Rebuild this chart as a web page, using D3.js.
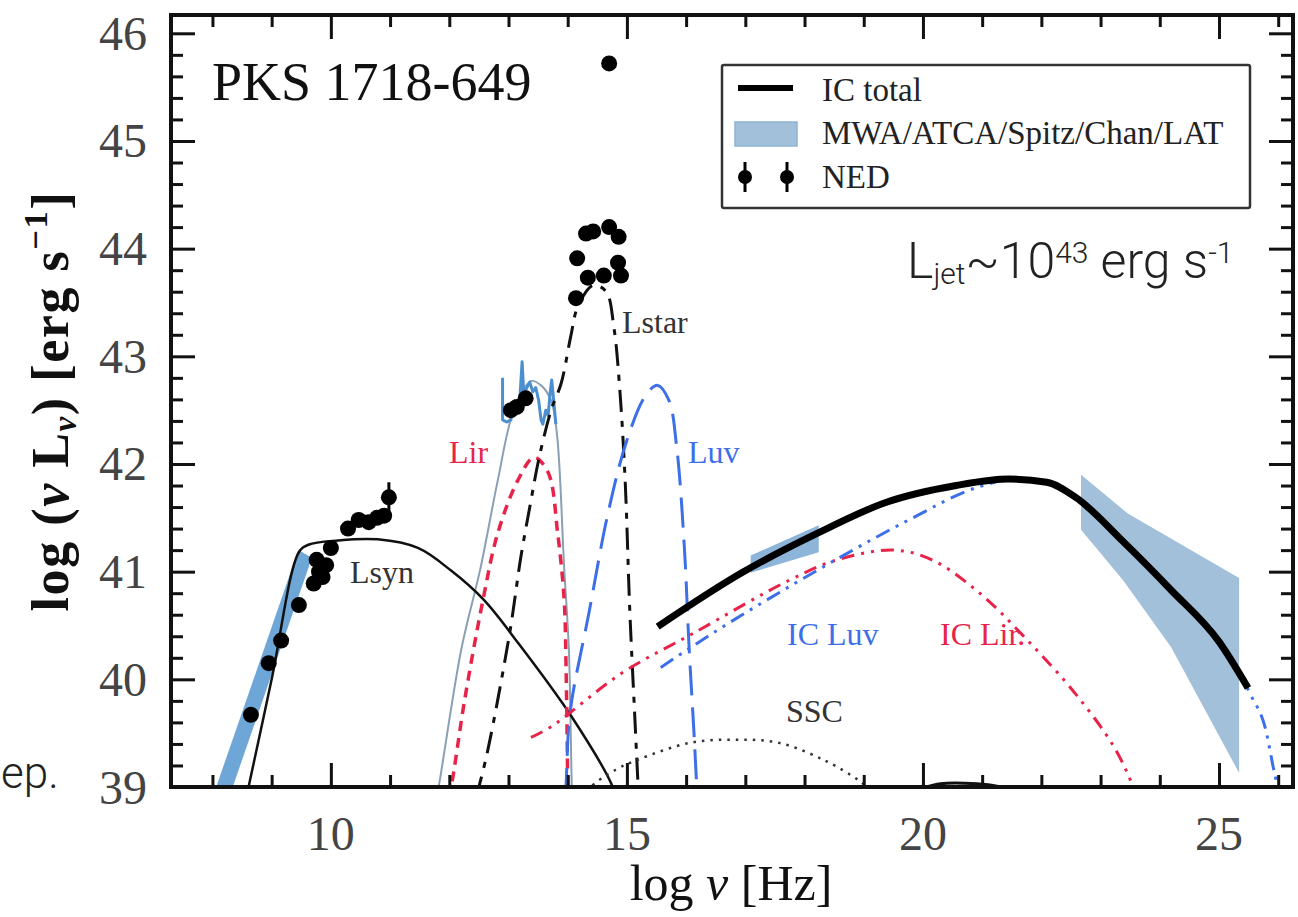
<!DOCTYPE html>
<html><head><meta charset="utf-8">
<script src="https://cdn.jsdelivr.net/npm/d3@7"></script>
<style>
body{margin:0;background:#fff}svg{display:block}
.serif{font-family:"Liberation Serif","Times New Roman",Times,serif;}
.sans{font-family:Roboto,"Liberation Sans",Arial,sans-serif;font-weight:300;}
</style>
</head><body>
<svg id="c" width="1298" height="917"></svg>
<script>
// ---------- data (log nu [Hz], log nuL_nu [erg/s]) ----------
const xMajorTicks = [10, 15, 20, 25];
const xMinorTicks = [8, 9, 11, 12, 13, 14, 16, 17, 18, 19, 21, 22, 23, 24, 26];
const yMajorTicks = [39, 40, 41, 42, 43, 44, 45, 46];
const yMinorTicks = [39.2,39.4,39.6,39.8,40.2,40.4,40.6,40.8,41.2,41.4,41.6,41.8,42.2,42.4,42.6,42.8,43.2,43.4,43.6,43.8,44.2,44.4,44.6,44.8,45.2,45.4,45.6,45.8];

const lsyn = [[8.55,38.85],[8.61,39.0],[9.0,40.0],[9.46,41.18],[9.62,41.25],[10.12,41.29],[10.79,41.30],[11.47,41.22],[12.03,41.01],[12.58,40.74],[13.16,40.34],[14.07,39.65],[14.76,39.0],[14.8,38.9]];
const lstar = [[12.45,38.9],[12.50,39.0],[12.65,39.34],[13.02,40.43],[13.21,41.14],[13.38,41.66],[13.51,42.04],[13.72,42.50],[13.89,42.75],[14.05,43.18],[14.17,43.46],[14.43,43.66],[14.65,43.60],[14.78,43.27],[14.88,42.69],[14.97,41.85],[15.05,40.62],[15.13,39.69],[15.19,39.0],[15.2,38.9]];
const lir = [[11.98,38.9],[12.03,39.0],[12.26,39.81],[12.57,40.74],[12.82,41.36],[13.16,41.85],[13.43,42.06],[13.67,41.92],[13.83,41.36],[13.94,40.74],[13.97,40.18],[14.0,39.0],[14.0,38.9]];
const thermalTotal = [[11.78,38.9],[11.82,39.0],[12.20,40.27],[12.53,41.04],[12.82,41.85],[13.09,42.50],[13.38,42.77],[13.55,42.73],[13.72,42.59],[13.82,42.27],[13.94,41.04],[14.02,40.27],[14.07,39.0],[14.08,38.9]];
const luv = [[13.95,38.9],[13.97,39.0],[14.04,39.69],[14.36,40.62],[14.68,41.54],[15.0,42.22],[15.32,42.64],[15.52,42.73],[15.71,42.59],[15.84,42.16],[15.97,41.23],[16.05,40.30],[16.13,39.53],[16.18,39.0],[16.19,38.9]];
const icTotal = [[15.52,40.49],[16.94,40.99],[18.23,41.36],[19.36,41.64],[20.56,41.80],[21.45,41.86],[22.09,41.83],[22.58,41.69],[23.38,41.28],[24.19,40.83],[25.0,40.35],[25.49,39.92]];
const icLuv = [[15.57,40.11],[16.54,40.46],[17.74,40.86],[18.72,41.17],[19.76,41.48],[20.96,41.79],[21.45,41.85],[22.09,41.83],[22.58,41.69],[23.38,41.28],[24.19,40.83],[25.0,40.35],[25.54,39.85],[25.79,39.53],[25.91,39.20],[25.98,39.0],[26.0,38.9]];
const icLir = [[13.38,39.46],[13.72,39.56],[14.92,40.06],[16.13,40.43],[17.74,40.92],[18.55,41.11],[19.51,41.20],[20.15,41.11],[20.96,40.80],[21.77,40.36],[22.57,39.87],[23.23,39.37],[23.55,39.0],[23.6,38.9]];
const ssc = [[14.35,38.95],[14.39,39.0],[14.81,39.16],[15.17,39.25],[16.06,39.41],[16.82,39.44],[17.57,39.41],[18.33,39.25],[18.92,39.06],[19.05,39.0]];
const extraTail = [[20.0,38.99],[20.3,39.03],[20.7,39.035],[21.1,39.02],[21.4,38.99]];
const spitzer = [[12.90,42.80],[12.90,42.41],[12.97,42.39],[13.04,42.41],[13.09,42.55],[13.14,42.48],[13.19,42.59],[13.23,42.95],[13.26,42.64],[13.31,42.71],[13.36,42.76],[13.41,42.67],[13.46,42.71],[13.51,42.59],[13.55,42.41],[13.58,42.37],[13.63,42.50],[13.67,42.45],[13.70,42.64],[13.73,42.78],[13.77,42.55],[13.80,42.37]];
const radioBand = [[8.0,38.9],[9.45,41.2],[9.68,41.13],[8.28,38.9]];
const xrayBand = [[17.09,41.15],[18.24,41.43],[18.24,41.18],[17.09,40.99]];
const latBandUpper = [[22.67,41.90],[23.46,41.54],[25.34,40.94]];
const latBandLower = [[22.67,41.39],[23.38,40.92],[24.19,40.30],[25.34,39.13]];
const nedPoints = [[8.65,39.67],[8.95,40.15],[9.16,40.36],[9.46,40.69],[9.71,40.89],[9.80,41.00],[9.76,41.11],[9.92,41.06],[9.86,40.95],[10.0,41.22],[10.29,41.40],[10.47,41.48],[10.64,41.46],[10.78,41.50],[10.90,41.52],[10.98,41.69],
  [13.04,42.50],[13.14,42.53],[13.29,42.61],
  [14.14,43.54],[14.16,43.91],[14.31,44.14],[14.43,44.16],[14.70,44.20],[14.86,44.11],[14.85,43.87],[14.90,43.75],[14.34,43.73],[14.61,43.75],[14.70,45.72]];
const nedErr = [[10.98,41.55,41.83]];

// ---------- setup ----------
const svg = d3.select('#c');
const L = 171, R = 1293, T = 15, B = 787;
const x = d3.scaleLinear().domain([7.3, 26.25]).range([L, R]);
const y = d3.scaleLinear().domain([39, 46.17]).range([B, T]);
const red = '#e8234a', blue = '#3d6fe8', bandLight = '#a2c0d9', bandDark = '#5e9dd3';
const BASE = 30;
// large serif text drawn at a base size and scaled
function bigText(parent, tx, ty, size, extra){
  const s = size / BASE;
  const g = parent.append('g').attr('transform', `translate(${tx},${ty})${extra||''} scale(${s})`);
  return g.append('text').attr('class','serif').style('font-size', BASE+'px');
}

svg.append('defs').append('clipPath').attr('id','clip')
  .append('rect').attr('x',L).attr('y',T).attr('width',R-L).attr('height',B-T);
const plot = svg.append('g').attr('clip-path','url(#clip)');

const lineCR = d3.line().x(d=>x(d[0])).y(d=>y(d[1])).curve(d3.curveCatmullRom.alpha(0.5));
const lineMono = d3.line().x(d=>x(d[0])).y(d=>y(d[1])).curve(d3.curveMonotoneX);
const lineLin = d3.line().x(d=>x(d[0])).y(d=>y(d[1]));
const polyLine = d3.line().x(d=>x(d[0])).y(d=>y(d[1])).curve(d3.curveLinearClosed);

// bands
plot.append('path').attr('d', polyLine(radioBand)).attr('fill', bandDark).attr('opacity',0.9);
plot.append('path').attr('d', polyLine(xrayBand)).attr('fill', '#8db5da');
plot.append('path').attr('d', polyLine(latBandUpper.concat(latBandLower.slice().reverse()))).attr('fill', bandLight);

function curve(data, color, width, dash, gen){
  plot.append('path').attr('d', (gen||lineCR)(data)).attr('fill','none')
    .attr('stroke', color).attr('stroke-width', width)
    .attr('stroke-dasharray', dash || null)
    .attr('stroke-linejoin','round');
}
curve(thermalTotal, '#8aa0b4', 2);
curve(spitzer, '#4b8fd0', 3, null, lineLin);
curve(lsyn, '#111', 2.5);
curve(lir, red, 3.5, '10,7');
curve(lstar, '#111', 3, '22,9,6,9');
curve(luv, blue, 3, '30,12');
curve(ssc, '#333', 2.5, '2.5,6');
curve(extraTail, '#111', 3);
curve(icLir, red, 3, '13,7,3,7,3,7');
curve(icLuv, blue, 3, '15,7,3,7,3,7', lineMono);
curve(icTotal, '#000', 7, null, lineMono);

// NED points
plot.selectAll('line.err').data(nedErr).enter().append('line')
  .attr('x1',d=>x(d[0])).attr('x2',d=>x(d[0])).attr('y1',d=>y(d[1])).attr('y2',d=>y(d[2]))
  .attr('stroke','#000').attr('stroke-width',3);
plot.selectAll('circle.ned').data(nedPoints).enter().append('circle')
  .attr('cx',d=>x(d[0])).attr('cy',d=>y(d[1])).attr('r',8).attr('fill','#000');

// ---------- axes (ticks) ----------
function styleAxis(g){
  g.select('.domain').remove();
  g.selectAll('.tick line').attr('stroke','#111').attr('stroke-width',3);
}
svg.append('g').attr('transform',`translate(0,${B})`)
  .call(d3.axisBottom(x).tickValues(xMajorTicks).tickSize(-24).tickFormat('')).call(styleAxis);
svg.append('g').attr('transform',`translate(0,${B})`)
  .call(d3.axisBottom(x).tickValues(xMinorTicks).tickSize(-12).tickFormat('')).call(styleAxis);
svg.append('g').attr('transform',`translate(0,${T})`)
  .call(d3.axisTop(x).tickValues(xMajorTicks).tickSize(-24).tickFormat('')).call(styleAxis);
svg.append('g').attr('transform',`translate(0,${T})`)
  .call(d3.axisTop(x).tickValues(xMinorTicks).tickSize(-12).tickFormat('')).call(styleAxis);
svg.append('g').attr('transform',`translate(${L},0)`)
  .call(d3.axisLeft(y).tickValues(yMajorTicks).tickSize(-24).tickFormat('')).call(styleAxis);
svg.append('g').attr('transform',`translate(${L},0)`)
  .call(d3.axisLeft(y).tickValues(yMinorTicks).tickSize(-12).tickFormat('')).call(styleAxis);
svg.append('g').attr('transform',`translate(${R},0)`)
  .call(d3.axisRight(y).tickValues(yMajorTicks).tickSize(-24).tickFormat('')).call(styleAxis);
svg.append('g').attr('transform',`translate(${R},0)`)
  .call(d3.axisRight(y).tickValues(yMinorTicks).tickSize(-12).tickFormat('')).call(styleAxis);

// tick labels
xMajorTicks.forEach(v => bigText(svg, x(v), 850, 48).attr('text-anchor','middle').attr('fill','#444').text(v));
yMajorTicks.forEach(v => bigText(svg, 147, y(v)+16.5, 48).attr('text-anchor','end').attr('fill','#444').text(v));

svg.append('rect').attr('x',L).attr('y',T).attr('width',R-L).attr('height',B-T)
  .attr('fill','none').attr('stroke','#111').attr('stroke-width',4);

// axis titles
const xl = bigText(svg, 731, 900, 50).attr('text-anchor','middle').attr('fill','#111');
xl.append('tspan').text('log ');
xl.append('tspan').style('font-style','italic').text('ν');
xl.append('tspan').text(' [Hz]');
const yl = bigText(svg, 68, 401, 52, ' rotate(-90)').attr('text-anchor','middle')
  .style('font-weight','bold').style('letter-spacing','0.9px').attr('fill','#111');
yl.append('tspan').text('log (');
yl.append('tspan').style('font-style','italic').text('ν');
yl.append('tspan').text(' L');
yl.append('tspan').style('font-size','19px').style('font-style','italic').attr('dy',4.5).text('ν');
yl.append('tspan').attr('dy',-4.5).text(') [erg s');
yl.append('tspan').style('font-size','20px').attr('dy',-12).text('−1');
yl.append('tspan').attr('dy',12).text(']');

// title
bigText(svg, 212, 100, 54).attr('fill','#111').text('PKS 1718-649');

// curve labels
const labels = [
  ['Lsyn', 350, 583, '#333'], ['Lir', 449, 463, red], ['Lstar', 622, 333, '#333'],
  ['Luv', 688, 463, blue], ['IC Luv', 787, 645, blue], ['IC Lir.', 940, 645, red], ['SSC', 786, 722, '#333']
];
svg.selectAll('text.lab').data(labels).enter().append('text').attr('class','serif')
  .attr('x',d=>d[1]).attr('y',d=>d[2]).attr('fill',d=>d[3])
  .style('font-size','32px').text(d=>d[0]);

// legend
const lg = svg.append('g');
lg.append('rect').attr('x',722).attr('y',65).attr('width',528).attr('height',143).attr('rx',2)
  .attr('fill','#fff').attr('stroke','#333').attr('stroke-width',2.5);
lg.append('line').attr('x1',738).attr('x2',793).attr('y1',88).attr('y2',88).attr('stroke','#000').attr('stroke-width',6);
lg.append('text').attr('class','serif').attr('x',822).attr('y',101).style('font-size','33px').attr('fill','#222').text('IC total');
lg.append('rect').attr('x',735).attr('y',122).attr('width',62).attr('height',24).attr('fill',bandLight).attr('stroke','#8fb2d4').attr('stroke-width',1.5);
lg.append('text').attr('class','serif').attr('x',822).attr('y',144).style('font-size','33px').attr('fill','#222').text('MWA/ATCA/Spitz/Chan/LAT');
[745, 787].forEach(cx=>{
  lg.append('line').attr('x1',cx).attr('x2',cx).attr('y1',162).attr('y2',192).attr('stroke','#000').attr('stroke-width',3);
  lg.append('circle').attr('cx',cx).attr('cy',177).attr('r',7).attr('fill','#000');
});
lg.append('text').attr('class','serif').attr('x',822).attr('y',188).style('font-size','33px').attr('fill','#222').text('NED');

// annotation
const lj = svg.append('text').attr('class','sans').attr('x',907).attr('y',278)
  .style('font-size','50px').attr('fill','#222');
lj.append('tspan').text('L');
lj.append('tspan').style('font-size','30px').attr('dy',6).text('jet');
lj.append('tspan').attr('dy',-6).text('~10');
lj.append('tspan').style('font-size','30px').attr('dy',-15).text('43');
lj.append('tspan').attr('dy',15).text(' erg s');
lj.append('tspan').style('font-size','30px').attr('dy',-15).text('-1');

svg.append('text').attr('class','sans').attr('x',1).attr('y',788)
  .style('font-size','44px').attr('fill','#222').text('ep.');
</script>
</body></html>
